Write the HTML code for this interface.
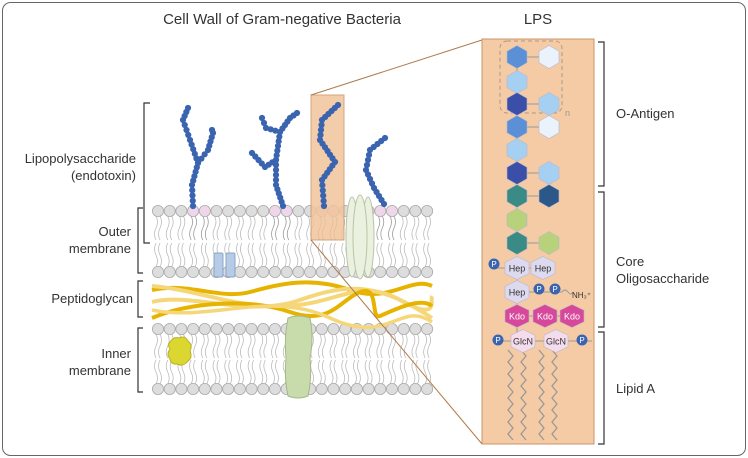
<!DOCTYPE html>
<html><head><meta charset="utf-8"><style>
html,body{margin:0;padding:0;background:#fff;}
svg{display:block;font-family:"Liberation Sans",sans-serif;}
</style></head><body>
<svg id="s" width="748" height="458" viewBox="0 0 748 458" xmlns="http://www.w3.org/2000/svg">
<rect x="2.5" y="2.5" width="743" height="453" rx="8" fill="#fff" stroke="#666" stroke-width="1"/>
<text x="282" y="24" font-size="15" fill="#333" text-anchor="middle">Cell Wall of Gram-negative Bacteria</text>
<text x="538" y="24" font-size="15" fill="#333" text-anchor="middle">LPS</text>
<g font-size="13" fill="#333" text-anchor="end">
<text x="136" y="163">Lipopolysaccharide</text>
<text x="136" y="180">(endotoxin)</text>
<text x="131" y="236">Outer</text>
<text x="131" y="253">membrane</text>
<text x="133" y="303">Peptidoglycan</text>
<text x="131" y="358">Inner</text>
<text x="131" y="375">membrane</text>
</g>
<g fill="none" stroke="#333" stroke-width="1.2">
<path d="M150,103 H144 V243 H150"/>
<path d="M143,208 H138 V273 H143"/>
<path d="M143,281 H138 V317 H143"/>
<path d="M143,328 H138 V392 H143"/>
</g>
<g id="mem"></g>
<g id="pg">
<path d="M152,290 C190,282 220,300 250,292 S310,276 350,290 S410,276 432,286" stroke="#e6b400" stroke-width="4" fill="none"/>
<path d="M152,302 C190,292 250,318 300,300 S380,284 432,318" stroke="#f5d77a" stroke-width="4" fill="none"/>
<path d="M152,286 C200,290 240,310 290,306 S360,278 400,300 S430,300 432,296" stroke="#f5d77a" stroke-width="4" fill="none"/>
<path d="M152,318 C190,302 250,298 290,312 S340,300 360,292 S370,320 380,316 S420,296 432,306" stroke="#e6b400" stroke-width="4" fill="none"/>
<path d="M152,310 C210,322 270,290 330,318 S400,300 432,322" stroke="#f5d77a" stroke-width="3.5" fill="none"/>
</g>
<rect x="311" y="95" width="33" height="145" fill="#f2c49c" stroke="#c8956a" opacity="0.85"/>
<g id="lpsch"></g>
<g>
<rect x="214" y="253" width="9" height="24" rx="1.5" fill="#b6cbe6" stroke="#8aa4c8"/>
<rect x="226" y="253" width="9" height="24" rx="1.5" fill="#b6cbe6" stroke="#8aa4c8"/>
<ellipse cx="352" cy="237" rx="6" ry="40" fill="#eaf1de" stroke="#b8c4a8"/>
<ellipse cx="368" cy="237" rx="6" ry="40" fill="#eaf1de" stroke="#b8c4a8"/>
<ellipse cx="360" cy="237" rx="7" ry="42" fill="#eaf1de" stroke="#b8c4a8"/>
<path d="M170,342 q4,-6 9,-4 q6,-3 9,3 q5,4 2,10 q3,7 -3,11 q-4,5 -10,2 q-6,1 -7,-5 q-4,-5 0,-10 q-3,-4 0,-7z" fill="#dcd630" stroke="#b8b228"/>
<path d="M288,318 q10,-4 22,0 q4,20 0,40 q2,20 -2,38 q-10,4 -20,0 q-4,-18 -2,-38 q-2,-20 2,-40z" fill="#c8dbaa" stroke="#a4b88a"/>
</g>
<g stroke="#b07a4a" stroke-width="1">
<line x1="311" y1="95" x2="482" y2="40"/>
<line x1="311" y1="240" x2="482" y2="444"/>
</g>
<rect x="482" y="39" width="112" height="405" fill="#f5cba6" stroke="#c8956a"/>
<rect x="500" y="41" width="62" height="72" rx="7" fill="none" stroke="#a89a8a" stroke-dasharray="4,3"/>
<text x="565" y="116" font-size="9" fill="#998">n</text>
<g id="tails"></g>
<g id="hex"></g>
<g fill="none" stroke="#333" stroke-width="1.2">
<path d="M598,42 H604 V186 H598"/>
<path d="M598,192 H604 V327 H598"/>
<path d="M598,332 H604 V444 H598"/>
</g>
<g font-size="13" fill="#333">
<text x="616" y="118">O-Antigen</text>
<text x="616" y="266">Core</text>
<text x="616" y="283">Oligosaccharide</text>
<text x="616" y="393">Lipid A</text>
</g>
</svg>
<script>
const NS="http://www.w3.org/2000/svg";
function mk(tag,attrs,parent){const e=document.createElementNS(NS,tag);for(const k in attrs)e.setAttribute(k,attrs[k]);parent.appendChild(e);return e;}
const mem=document.getElementById('mem');
const rows=[[211,272],[329,389]];
const pinkX=[190,202,274,286,321,333,380,392];
for(const [t,b] of rows){
  for(let x=158;x<=428;x+=11.7){
    const near=pinkX.some(p=>Math.abs(p-x)<4);
    for(const dx of [-2,2]){
      mk('path',{d:`M${x+dx},${t+5} q3,6 0,12 q-3,6 0,12`,stroke:near&&t===211?'#999':'#bbb','stroke-width':0.8,fill:'none'},mem);
      mk('path',{d:`M${x+dx},${b-5} q3,-6 0,-12 q-3,-6 0,-12`,stroke:'#bbb','stroke-width':0.8,fill:'none'},mem);
    }
    mk('circle',{cx:x,cy:t,r:5.6,fill:near&&t===211?'#efd6ea':'#ddd',stroke:'#aaa','stroke-width':0.8},mem);
    mk('circle',{cx:x,cy:b,r:5.6,fill:'#ddd',stroke:'#aaa','stroke-width':0.8},mem);
  }
}
const chains=[
 [[193,206],[192,185],[198,163],[190,140],[183,120],[188,108]],
 [[198,163],[208,150],[213,133],[212,130]],
 [[283,206],[276,185],[276,160],[280,132],[290,118],[297,113]],
 [[276,160],[265,167],[252,153]],
 [[280,132],[266,128],[262,118]],
 [[324,206],[322,180],[335,162],[320,140],[322,120],[338,105]],
 [[384,204],[374,188],[366,170],[370,150],[385,138]]
];
const lc=document.getElementById('lpsch');
for(const c of chains){
  for(let i=0;i<c.length-1;i++){
    const [x1,y1]=c[i],[x2,y2]=c[i+1];const L=Math.hypot(x2-x1,y2-y1);const n=Math.max(1,Math.round(L/4.8));
    for(let k=0;k<n;k++){const f=k/n;mk('circle',{cx:x1+(x2-x1)*f,cy:y1+(y2-y1)*f,r:3.1,fill:'#3a64b0'},lc);}
  }
  const l=c[c.length-1];mk('circle',{cx:l[0],cy:l[1],r:3.1,fill:'#3a64b0'},lc);
}
const tg=document.getElementById('tails');
for(const x0 of [508,521,539,552]){
  let d=`M${x0},350`;for(let y=350;y<436;y+=6){d+=` l${(y/6)%2<1?5:-5},6`;}
  mk('path',{d:d,stroke:'#999','stroke-width':1.3,fill:'none'},tg);
}
const hg=document.getElementById('hex');
function hex(cx,cy,fill,label,tc,wide){
  const w=wide?12:10,h=11.5;
  mk('polygon',{points:`${cx},${cy-h} ${cx+w},${cy-h/2} ${cx+w},${cy+h/2} ${cx},${cy+h} ${cx-w},${cy+h/2} ${cx-w},${cy-h/2}`,fill:fill,stroke:'#b8b8c8','stroke-width':0.6},hg);
  if(label){const t=mk('text',{x:cx,y:cy+3.5,'font-size':9,'text-anchor':'middle',fill:tc||'#333'},hg);t.textContent=label;}
}
function pc(cx,cy){mk('circle',{cx:cx,cy:cy,r:5.5,fill:'#3a64b0'},hg);const t=mk('text',{x:cx,y:cy+3,'font-size':8,'text-anchor':'middle',fill:'#fff'},hg);t.textContent='P';}
mk('line',{x1:517,y1:57,x2:517,y2:245,stroke:'#999'},hg);
const L=517,R=549;
const cells=[[L,57,'#5b8fd6'],[R,57,'#eaf3fb'],[L,82,'#a6d0f2'],[L,104,'#3b4fa8'],[R,104,'#a6d0f2'],[L,127,'#5b8fd6'],[R,127,'#eaf3fb'],[L,150,'#a6d0f2'],[L,173,'#3b4fa8'],[R,173,'#a6d0f2'],[L,196,'#3a8a86'],[R,196,'#2b5888'],[L,220,'#b8d27c'],[L,243,'#3a8a86'],[R,243,'#b8d27c']];
for(const [x,y] of cells) if(x===R) mk('line',{x1:L,y1:y,x2:R,y2:y,stroke:'#999'},hg);
for(const c of cells) hex(c[0],c[1],c[2]);
mk('line',{x1:517,y1:268,x2:517,y2:341,stroke:'#999'},hg);
mk('line',{x1:492,y1:268,x2:543,y2:268,stroke:'#999'},hg);
mk('path',{d:'M517,292 H549 M549,292 H562 q3,-4 6,0 q3,4 5,0',stroke:'#999',fill:'none'},hg);
mk('line',{x1:517,y1:316,x2:572,y2:316,stroke:'#999'},hg);
mk('line',{x1:498,y1:341,x2:592,y2:341,stroke:'#999'},hg);
hex(517,268,'#ddd9ef','Hep',null,true);hex(543,268,'#ddd9ef','Hep',null,true);pc(494,264);
hex(517,292,'#ddd9ef','Hep',null,true);pc(539,289);pc(555,289);
const nt=mk('text',{x:572,y:298,'font-size':8,fill:'#333'},hg);nt.textContent='NH\u2083\u207A';
hex(517,316,'#d8489a','Kdo','#fff',true);hex(545,316,'#d8489a','Kdo','#fff',true);hex(572,316,'#d8489a','Kdo','#fff',true);
hex(523,341,'#f4dcec','GlcN',null,true);hex(556,341,'#f4dcec','GlcN',null,true);pc(498,340);pc(582,340);
</script>
</body></html>
